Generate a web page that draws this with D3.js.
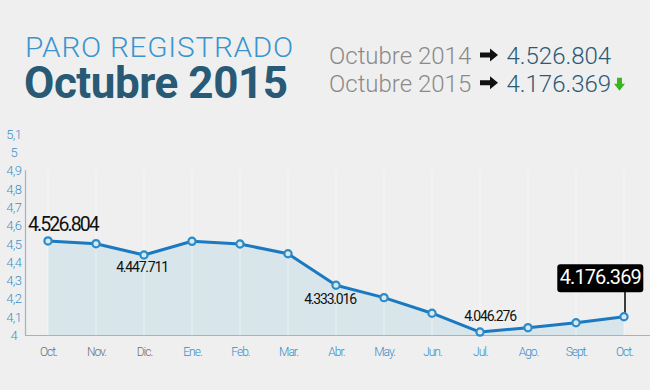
<!DOCTYPE html>
<html><head><meta charset="utf-8">
<script src="https://cdn.jsdelivr.net/npm/d3@7"></script>
<style>
html,body{margin:0;padding:0;background:#efefef;}
svg{display:block;font-family:Roboto,"Open Sans",sans-serif;}
</style></head>
<body>
<svg id="c" width="650" height="390"></svg>
<script>
// ---- data ----
const months = ["Oct.","Nov.","Dic.","Ene.","Feb.","Mar.","Abr.","May.","Jun.","Jul.","Ago.","Sept.","Oct."];
const monthYear = [2014,2014,2014,2015,2015,2015,2015,2015,2015,2015,2015,2015,2015];
// plotted values (millions)
const paro = [4.514,4.499,4.437,4.512,4.497,4.444,4.272,4.204,4.119,4.016,4.040,4.067,4.100];
const yTicks = [4,4.1,4.2,4.3,4.4,4.5,4.6,4.7,4.8,4.9,5,5.1];
const pointLabels = [
  {i:0, text:"4.526.804", kind:"big"},
  {i:2, text:"4.447.711", kind:"below"},
  {i:6, text:"4.333.016", kind:"below"},
  {i:9, text:"4.046.276", kind:"above"}
];
const calloutIndex = 12, calloutText = "4.176.369";
const titleTop = "PARO REGISTRADO", titleMain = "Octubre 2015";
const summary = [
  {label:"Octubre 2014", value:"4.526.804", down:false},
  {label:"Octubre 2015", value:"4.176.369", down:true}
];

const svg = d3.select("#c");
const x = d3.scaleLinear().domain([0, months.length-1]).range([48, 624]);
const y = d3.scaleLinear().domain([4, 5.1]).range([335, 133.7]);

// titles
const t1 = svg.append("text").attr("x",25).attr("y",56.5).attr("font-size",27.5).attr("font-weight",300)
  .attr("fill","#3a95cf").attr("letter-spacing",0.7).text(titleTop);
const w1 = t1.node().getComputedTextLength();
if (Math.abs(w1-269) > 3) t1.attr("textLength",269).attr("lengthAdjust","spacingAndGlyphs");
svg.append("text").attr("x",24).attr("y",98.3).attr("font-size",44).attr("font-weight",700)
  .attr("fill","#285a75").attr("textLength",264).text(titleMain);

// summary
summary.forEach((s,k)=>{
  const by = 64 + k*27.7;
  svg.append("text").attr("x",329).attr("y",by).attr("font-size",24).attr("font-weight",300)
    .attr("fill","#8a8a8a").text(s.label);
  svg.append("path").attr("transform",`translate(480,${by-9})`)
    .attr("d","M0,-2.5 H10 V-6.5 L18,0 L10,6.5 V2.5 H0 Z").attr("fill","#111");
  svg.append("text").attr("x",506.5).attr("y",by).attr("font-size",24).attr("font-weight",300)
    .attr("fill","#2b5a78").text(s.value);
  if (s.down) {
    svg.append("path").attr("transform",`translate(619.5,${by-14})`)
      .attr("d","M-2.5,0 H2.5 V6 H5.5 L0,13 L-5.5,6 H-2.5 Z").attr("fill","#3cb521");
  }
});

// area
const area = d3.area().x((d,i)=>x(i)).y0(y(4)).y1(d=>y(d));
svg.append("path").datum(paro).attr("d",area).attr("fill","#d8e5ea");

// vertical grid lines
svg.append("g").selectAll("line").data(paro).join("line")
  .attr("x1",(d,i)=>x(i)).attr("x2",(d,i)=>x(i))
  .attr("y1",y(4.9)).attr("y2",y(4))
  .attr("stroke","#ffffff").attr("stroke-opacity",0.45).attr("stroke-width",1.2);

// axes
const yAxis = d3.axisLeft(y).tickValues(yTicks).tickSize(0)
  .tickFormat(d=>d3.format(".1~f")(d).replace(".",","));
const gy = svg.append("g").attr("transform","translate(25.5,0)").call(yAxis);
gy.select(".domain").remove();
gy.selectAll("text").attr("x",-11.8).attr("text-anchor","middle").attr("dy","0.35em")
  .attr("fill","#3a8fca").attr("font-size",13).attr("font-family","Roboto, sans-serif")
  .attr("font-weight",300).attr("letter-spacing",-0.6);
svg.append("line").attr("x1",25.5).attr("x2",25.5).attr("y1",y(4.9)).attr("y2",y(4)+0.5)
  .attr("stroke","#8dbad8").attr("stroke-width",1.2);
svg.append("line").attr("x1",25).attr("x2",650).attr("y1",y(4)+0.5).attr("y2",y(4)+0.5)
  .attr("stroke","#8dbad8").attr("stroke-width",1.2);

const xAxis = d3.axisBottom(x).tickValues(d3.range(months.length)).tickSize(0)
  .tickFormat(i=>months[i]);
const gx = svg.append("g").attr("transform",`translate(0,${y(4)})`).call(xAxis);
gx.select(".domain").remove();
gx.selectAll("text").attr("y",21).attr("dy",0).attr("font-size",12).attr("font-family","Roboto, sans-serif")
  .attr("font-weight",300).attr("letter-spacing",-1)
  .attr("fill",i=>monthYear[i]===2014?"#707070":"#3a8cc6");

// line
const line = d3.line().x((d,i)=>x(i)).y(d=>y(d));
svg.append("path").datum(paro).attr("d",line).attr("fill","none")
  .attr("stroke","#1a79c0").attr("stroke-width",3).attr("stroke-linejoin","round");

// callout connector
svg.append("line").attr("x1",x(calloutIndex)+1).attr("x2",x(calloutIndex)+1)
  .attr("y1",292).attr("y2",y(paro[calloutIndex])).attr("stroke","#000").attr("stroke-width",1.5);

// points
svg.append("g").selectAll("circle").data(paro).join("circle")
  .attr("cx",(d,i)=>x(i)).attr("cy",d=>y(d)).attr("r",3.6)
  .attr("fill","#dbe8ee").attr("stroke","#2b8bc9").attr("stroke-width",2.2);

// point labels
pointLabels.forEach(p=>{
  const px = x(p.i), py = y(paro[p.i]);
  let t = svg.append("text").attr("fill","#111").attr("font-family","Roboto, sans-serif");
  if (p.kind==="big") {
    t.attr("x",28).attr("y",py-10).attr("font-size",19.5).attr("letter-spacing",-1.9).text(p.text);
  } else if (p.kind==="below") {
    t.attr("x",px-(p.i===6?6:2)).attr("y",py+(p.i===6?19:17)).attr("text-anchor","middle")
      .attr("font-size",14).attr("letter-spacing",-1.2).text(p.text);
  } else {
    t.attr("x",px+10).attr("y",py-11).attr("text-anchor","middle")
      .attr("font-size",14).attr("letter-spacing",-1.2).text(p.text);
  }
});

// callout box
const cb = svg.append("g");
cb.append("rect").attr("x",557.3).attr("y",264.3).attr("width",86).attr("height",28).attr("rx",3)
  .attr("fill","#000");
cb.append("text").attr("x",600.3).attr("y",284.3).attr("text-anchor","middle").attr("fill","#fff")
  .attr("font-size",20).attr("letter-spacing",-0.9).text(calloutText);
</script>
</body></html>
